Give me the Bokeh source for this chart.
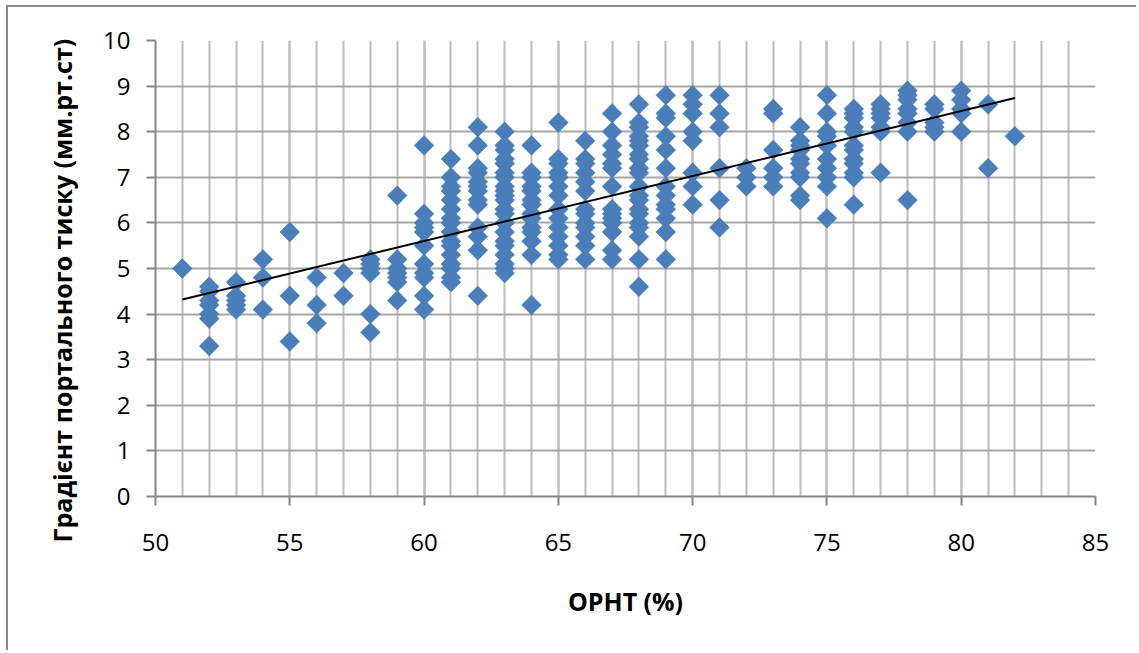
import math
from bokeh.plotting import figure
from bokeh.models import Range1d, SingleIntervalTicker, Title
from bokeh.embed import file_html
from bokeh.resources import INLINE

# ОРНТ (%) columns
orht_columns = list(range(51, 83))

# Градієнт портального тиску (мм.рт.ст) per ОРНТ column
gradient_columns = [
    [5.0],                                                                  # 51
    [4.6, 4.5, 4.3, 4.2, 4.0, 3.9, 3.3],                                    # 52
    [4.7, 4.4, 4.3, 4.2, 4.1],                                              # 53
    [5.2, 4.8, 4.1],                                                        # 54
    [5.8, 4.4, 3.4],                                                        # 55
    [4.8, 4.2, 3.8],                                                        # 56
    [4.9, 4.4],                                                             # 57
    [5.2, 5.1, 5.0, 4.9, 4.0, 3.6],                                         # 58
    [6.6, 5.2, 5.0, 4.9, 4.8, 4.7, 4.3],                                    # 59
    [7.7, 6.2, 6.0, 5.9, 5.8, 5.5, 5.1, 4.9, 4.8, 4.4, 4.1],                # 60
    [7.4, 7.0, 6.8, 6.7, 6.5, 6.3, 6.1, 6.0, 5.8, 5.6, 5.5, 5.3, 5.1, 5.0, 4.8, 4.7],  # 61
    [8.1, 7.7, 7.2, 7.1, 6.9, 6.8, 6.7, 6.5, 6.4, 5.9, 5.7, 5.4, 4.4],      # 62
    [8.0, 7.7, 7.6, 7.4, 7.3, 7.1, 7.0, 6.8, 6.7, 6.6, 6.5, 6.3, 6.2, 6.0,
     5.8, 5.6, 5.5, 5.3, 5.1, 5.0, 4.9],                                    # 63
    [7.7, 7.1, 7.0, 6.8, 6.7, 6.5, 6.4, 6.2, 6.1, 5.9, 5.8, 5.6, 5.3, 4.2], # 64
    [8.2, 7.4, 7.3, 7.1, 7.0, 6.8, 6.6, 6.3, 6.1, 5.9, 5.7, 5.5, 5.3, 5.2], # 65
    [7.8, 7.4, 7.3, 7.1, 6.9, 6.7, 6.3, 6.2, 6.0, 5.9, 5.7, 5.5, 5.2],      # 66
    [8.4, 8.0, 7.7, 7.5, 7.3, 7.2, 6.8, 6.3, 6.2, 6.1, 6.0, 5.8, 5.4, 5.2], # 67
    [8.6, 8.2, 8.1, 7.9, 7.8, 7.7, 7.5, 7.4, 7.2, 7.1, 6.8, 6.6, 6.5, 6.3,
     6.2, 6.0, 5.9, 5.7, 5.2, 4.6],                                         # 68
    [8.8, 8.4, 8.3, 7.9, 7.6, 7.2, 6.8, 6.6, 6.4, 6.3, 6.1, 5.8, 5.2],      # 69
    [8.8, 8.6, 8.4, 8.0, 7.8, 7.1, 6.8, 6.4],                               # 70
    [8.8, 8.4, 8.1, 7.2, 6.5, 5.9],                                         # 71
    [7.2, 7.0, 6.8],                                                        # 72
    [8.5, 8.4, 7.6, 7.2, 7.0, 6.8],                                         # 73
    [8.1, 7.8, 7.7, 7.6, 7.4, 7.3, 7.1, 7.0, 6.6, 6.5],                     # 74
    [8.8, 8.4, 8.0, 7.9, 7.7, 7.4, 7.2, 7.0, 6.8, 6.1],                     # 75
    [8.5, 8.4, 8.3, 8.1, 8.0, 7.7, 7.6, 7.4, 7.3, 7.1, 7.0, 6.4],           # 76
    [8.6, 8.5, 8.4, 8.3, 8.1, 8.0, 7.1],                                    # 77
    [8.9, 8.8, 8.7, 8.5, 8.4, 8.2, 8.0, 6.5],                               # 78
    [8.6, 8.5, 8.2, 8.1, 8.0],                                              # 79
    [8.9, 8.7, 8.5, 8.4, 8.0],                                              # 80
    [8.6, 7.2],                                                             # 81
    [7.9],                                                                  # 82
]

# linear trend line (endpoints)
trend_x = [51, 82]
trend_y = [4.32, 8.74]

x_title = "ОРНТ (%)"
y_title = "Градієнт портального тиску (мм.рт.ст)"

xs, ys = [], []
for c, vals in zip(orht_columns, gradient_columns):
    for v in vals:
        xs.append(c)
        ys.append(v)

FONT = "Open Sans"
W, H = 1130, 645

p = figure(width=W, height=H, output_backend="svg", toolbar_location=None,
           x_range=Range1d(50, 85), y_range=Range1d(0, 10),
           min_border_left=147, min_border_right=43,
           min_border_top=33, min_border_bottom=156)
p.styles = {"margin-left": "6px", "margin-top": "5px",
            "border-top": "2px solid #8a8a8a", "border-left": "2px solid #8a8a8a"}
p.outline_line_color = None
p.background_fill_color = "white"
p.border_fill_color = "white"

p.xaxis.ticker = SingleIntervalTicker(interval=5, num_minor_ticks=5)
p.yaxis.ticker = SingleIntervalTicker(interval=1, num_minor_ticks=0)

for ax in (p.xaxis, p.yaxis):
    ax.axis_line_color = "#868686"
    ax.axis_line_width = 2
    ax.major_tick_line_color = "#868686"
    ax.major_tick_line_width = 2
    ax.major_tick_out = 9
    ax.major_tick_in = 0
    ax.minor_tick_out = 0
    ax.minor_tick_in = 0
    ax.major_label_text_font = FONT
    ax.major_label_text_font_size = "24px"
    ax.major_label_text_color = "black"

p.xaxis.major_label_standoff = 28
p.yaxis.major_label_standoff = 16

p.xaxis.axis_label = x_title
p.xaxis.axis_label_text_font = FONT
p.xaxis.axis_label_text_font_style = "bold"
p.xaxis.axis_label_text_font_size = "25px"
p.xaxis.axis_label_text_color = "black"
p.xaxis.axis_label_standoff = 30

# align="left" on a left-side title starts the text at the frame bottom; offset shifts it
p.add_layout(Title(text=y_title, align="left", offset=-46, standoff=44,
                   text_font=FONT, text_font_style="bold", text_font_size="25px",
                   text_color="black"), "left")

p.xgrid.grid_line_color = "#bcbcbc"
p.xgrid.grid_line_width = 2
p.xgrid.minor_grid_line_color = "#bcbcbc"
p.xgrid.minor_grid_line_width = 2
p.ygrid.grid_line_color = "#a6a6a6"
p.ygrid.grid_line_width = 2

p.scatter(xs, ys, marker="square", angle=math.pi / 4, size=14,
          fill_color="#4A7EBB", line_color="#4A7EBB", line_width=0.5)
p.line(trend_x, trend_y, line_color="black", line_width=2)

open("out.html", "w").write(file_html(p, INLINE))
